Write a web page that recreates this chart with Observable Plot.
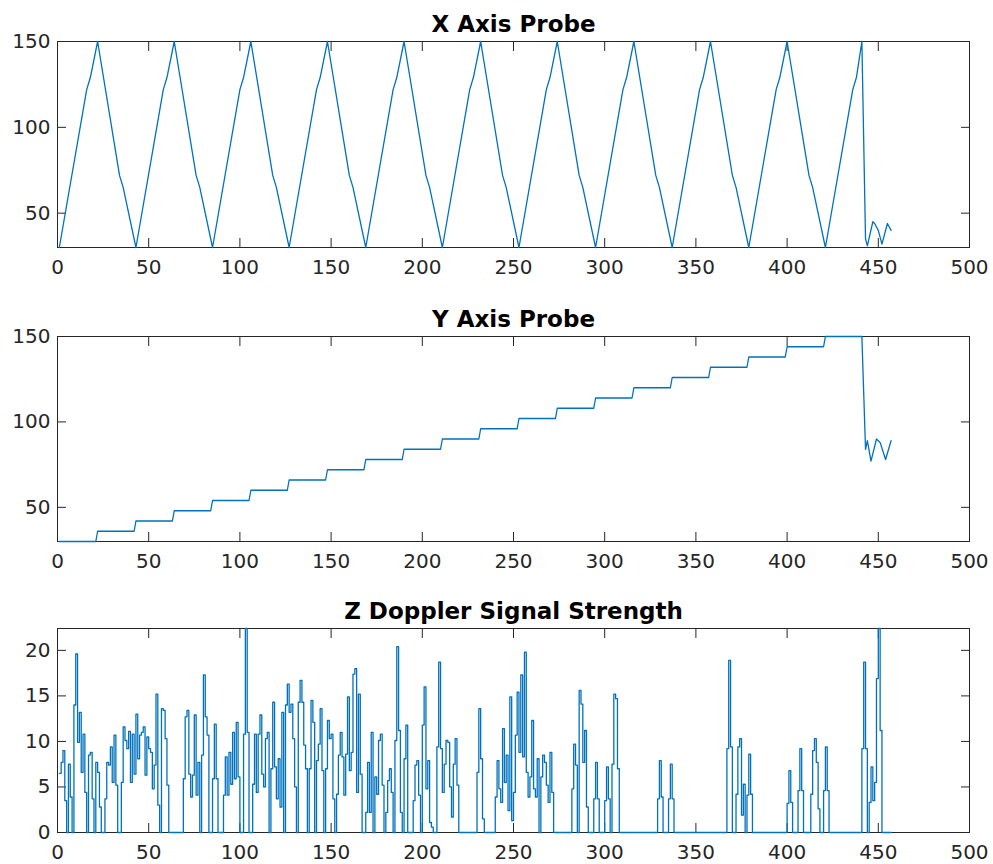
<!DOCTYPE html>
<html><head><meta charset="utf-8">
<script src="https://cdn.jsdelivr.net/npm/d3@7"></script>
<script src="https://cdn.jsdelivr.net/npm/@observablehq/plot@0.6"></script>
<style>
body{margin:0;background:#fff;}
#wrap{position:relative;width:993px;height:864px;overflow:hidden;}
#wrap > div{position:absolute;left:0;}
</style></head><body><div id="wrap"></div>
<script>
const titles = ["X Axis Probe", "Y Axis Probe", "Z Doppler Signal Strength"];
const xTicks = [0, 50, 100, 150, 200, 250, 300, 350, 400, 450, 500];
const probeTicks = [50, 100, 150];
const zTicks = [0, 5, 10, 15, 20];

// X axis probe (sample index, value) vertices
const xProbeIdx = [1,16,18,22,34,36,43,58,60,64,76,78,85,100,102,106,118,120,127,142,144,148,160,162,169,184,186,190,202,204,211,226,228,232,244,246,253,268,270,274,286,288,295,310,312,316,328,330,337,352,354,358,370,372,379,394,396,400,412,414,421,436,438,441,442,443,444,447,448,450,452,455,457];
const xProbeVal = [30,122,129,150,72,65,30,122,129,150,72,65,30,122,129,150,72,65,30,122,129,150,72,65,30,122,129,150,72,65,30,122,129,150,72,65,30,122,129,150,72,65,30,122,129,150,72,65,30,122,129,150,72,65,30,122,129,150,72,65,30,122,129,150,92,35,31,45,44,40,32,44,40];

// Y axis probe (sample index, value) vertices
const yProbeIdx = [1,21,22,42,43,63,64,84,85,105,106,126,127,147,148,168,169,189,190,210,211,231,232,252,253,273,274,294,295,315,316,336,337,357,358,378,379,399,400,420,421,441,442,443,444,446,449,451,454,457];
const yProbeVal = [30,30,36,36,42,42,48,48,54,54,60,60,66,66,72,72,78,78,84,84,90,90,96,96,102,102,108,108,114,114,120,120,126,126,132,132,138,138,144,144,150,150,117,84,89,77,90,88,78,89];

// Z Doppler signal strength, samples 1..457
const zVal = [
6.5,7.7,9.0,3.5,0,7.5,3.9,0,14.0,19.6,
9.9,13.2,6.6,10.8,4.4,0,8.5,8.8,3.7,0,
7.7,6.6,2.8,0,0,3.7,7.7,7.4,9.4,5.5,
10.7,5.2,0,0,5.5,11.6,10.1,9.2,11.1,5.5,
10.8,6.4,13.0,8.1,10.7,11.0,11.6,6.3,10.5,9.2,
8.8,4.8,7.4,15.2,3.0,0,13.6,13.4,10.3,5.2,
0,0,0,0,0,0,0,0,5.9,12.7,
13.4,6.4,3.9,6.3,12.9,4.1,7.7,0,8.5,17.3,
12.7,10.7,0,0,5.9,11.9,5.9,0,0,0,
4.1,8.3,4.1,8.8,5.3,11.0,5.9,12.1,6.1,0,
0,10.8,22.4,11.0,0,0,5.3,10.8,4.4,10.8,
12.9,6.4,5.0,10.3,11.0,0,7.0,14.3,7.2,3.7,
8.1,2.8,13.2,0,14.0,16.3,13.2,14.1,10.3,5.0,
0,14.3,16.7,14.3,9.6,7.0,0,7.0,14.5,12.1,
0,7.9,9.7,13.6,6.8,0,7.0,12.3,10.3,10.8,
3.7,0,4.2,8.5,11.0,8.3,4.1,8.6,14.9,6.8,
8.8,17.4,18.0,4.4,15.2,6.4,0,0,2.2,7.7,
2.2,11.0,0,6.1,4.2,10.1,10.8,5.2,0,2.2,
5.7,7.0,4.4,0,10.1,20.4,11.2,2.2,0,8.1,
11.8,0,0,0,3.5,7.4,7.9,4.1,0,11.8,
16.0,4.8,7.9,1.1,0.6,0,0,9.4,18.7,9.2,
4.4,7.5,10.1,9.9,5.0,1.7,7.5,10.3,5.2,0,
0,0,0,0,0,0,0,0,0,6.6,
13.6,8.1,1.5,0,0,0,0,0,0,3.9,
7.9,4.8,3.3,11.4,5.5,8.5,2.4,14.9,1.3,4.4,
10.7,15.4,8.8,17.3,8.3,19.8,6.6,3.9,6.1,12.3,
4.8,3.9,8.1,0,6.1,8.5,7.7,5.2,3.3,8.8,
4.4,0,0,0,0,0,0,0,0,0,
0,4.8,9.7,7.4,0,15.6,14.1,7.7,11.2,2.8,
0,0,0,3.7,7.7,3.7,0,0,0,3.5,
7.2,3.7,0,7.5,15.2,14.7,7.0,0,0,0,
0,0,0,0,0,0,0,0,0,0,
0,0,0,0,0,0,0,0,3.7,7.9,
3.9,0,0,0,3.7,7.5,3.7,0,0,0,
0,0,0,0,0,0,0,0,0,0,
0,0,0,0,0,0,0,0,0,0,
0,0,0,0,0,0,9.2,18.9,9.4,0,
0,4.2,9.4,10.3,1.9,5.3,0,4.1,8.6,4.2,
0,0,0,0,0,0,0,0,0,0,
0,0,0,0,0,0,0,0,0,3.2,
6.8,3.3,0,0,0,4.6,9.2,4.6,0,0,
0,0,4.2,9.0,10.3,7.7,2.6,0,0,4.6,
9.4,4.6,0,0,0,0,0,0,0,0,
0,0,0,0,0,0,0,0,0,0,
9.2,18.7,9.2,0,3.3,7.2,3.5,5.5,16.9,22.4,
11.2,0,0,0,0,0,0
];

const lineColor = "#0072BD";
const axisColor = "#262626";

function panel({top, height, marginBottom, yDomain, yTicks, title, data, curve}) {
  const svg = Plot.plot({
    width: 993, height,
    marginLeft: 57, marginRight: 24, marginTop: 41, marginBottom,
    style: {fontFamily: "DejaVu Sans", fontSize: "20px", color: axisColor, background: "white", overflow: "visible"},
    x: {domain: [0, 500]},
    y: {domain: yDomain},
    marks: [
      Plot.frame({stroke: axisColor, strokeWidth: 1}),
      Plot.axisX(xTicks, {anchor: "bottom", tickSize: -9, tickPadding: 21, label: null, stroke: axisColor}),
      Plot.axisX(xTicks, {anchor: "top", tickSize: -9, tickFormat: () => "", label: null, stroke: axisColor}),
      Plot.axisY(yTicks, {anchor: "left", tickSize: -9, tickPadding: 16, label: null, stroke: axisColor}),
      Plot.axisY(yTicks, {anchor: "right", tickSize: -9, tickFormat: () => "", label: null, stroke: axisColor}),
      Plot.line(data, {x: "x", y: "y", curve, stroke: lineColor, strokeWidth: 1.3}),
      Plot.text([title], {text: d => d, frameAnchor: "top", dy: -10, lineAnchor: "bottom", fontSize: 23, fontWeight: "bold", fill: "black"})
    ]
  });
  const div = document.createElement("div");
  div.style.top = top + "px";
  div.appendChild(svg);
  document.getElementById("wrap").appendChild(div);
}

panel({top: 0, height: 287, marginBottom: 40, yDomain: [30, 150], yTicks: probeTicks, title: titles[0],
  data: xProbeIdx.map((x, i) => ({x, y: xProbeVal[i]})), curve: "linear"});
panel({top: 295, height: 286, marginBottom: 40, yDomain: [30, 150], yTicks: probeTicks, title: titles[1],
  data: yProbeIdx.map((x, i) => ({x, y: yProbeVal[i]})), curve: "linear"});
panel({top: 587, height: 277, marginBottom: 32, yDomain: [0, 22.4], yTicks: zTicks, title: titles[2],
  data: zVal.map((y, i) => ({x: i + 1, y})), curve: "step-after"});
</script>
</body></html>
